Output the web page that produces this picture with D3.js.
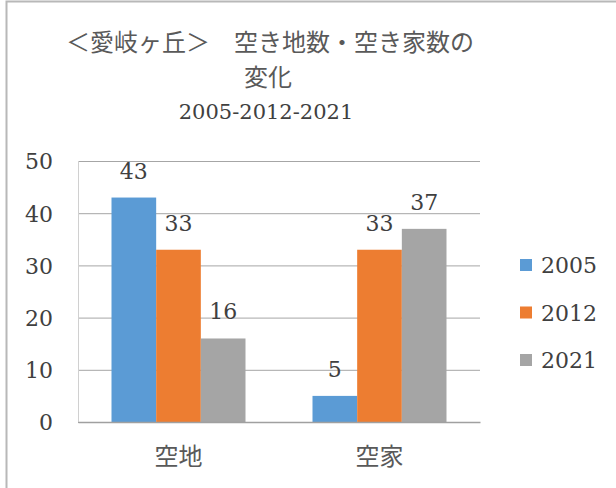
<!DOCTYPE html>
<html>
<head>
<meta charset="utf-8">
<script src="https://cdn.jsdelivr.net/npm/d3@7"></script>
<style>
  html, body { margin: 0; padding: 0; background: #fff; }
  svg { display: block; }
</style>
</head>
<body>
<svg id="chart" width="616" height="488"></svg>
<script>
// Chart data
const categories = ["空地", "空家"];
const seriesNames = ["2005", "2012", "2021"];
const values2005 = [43, 5];
const values2012 = [33, 33];
const values2021 = [16, 37];
const yTicks = [0, 10, 20, 30, 40, 50];
const titleLines = ["＜愛岐ヶ丘＞　空き地数・空き家数の", "変化", "2005-2012-2021"];

const seriesValues = [values2005, values2012, values2021];
const colors = ["#5B9BD5", "#ED7D31", "#A5A5A5"];

const svg = d3.select("#chart");
const W = 616, H = 488;
const plot = { left: 78, right: 480, top: 161, bottom: 422 };

const serif = "'DejaVu Serif', 'Liberation Serif', serif";
const cjk = "'Noto Sans CJK JP', 'Noto Sans CJK SC', sans-serif";

// outer frame (only left and top edges fall inside the view)
svg.append("rect")
  .attr("x", 6.5).attr("y", 1.5)
  .attr("width", W + 20).attr("height", H + 20)
  .attr("fill", "#fff")
  .attr("stroke", "#b8b8b8").attr("stroke-width", 2);

// scales
const y = d3.scaleLinear().domain([0, 50]).range([plot.bottom, plot.top]);
const x0 = d3.scaleBand().domain(categories)
  .range([plot.left, plot.right]).paddingInner(1 / 3).paddingOuter(1 / 6);
const x1 = d3.scaleBand().domain(seriesNames).range([0, x0.bandwidth()]).padding(0);

// gridlines + y tick labels
const yAxis = d3.axisLeft(y).tickValues(yTicks)
  .tickSize(-(plot.right - plot.left)).tickPadding(25).tickFormat(d3.format("d"));
const gy = svg.append("g").attr("transform", `translate(${plot.left},0)`).call(yAxis);
gy.select(".domain").remove();
gy.selectAll(".tick line").attr("stroke", "#a6a6a6").attr("stroke-width", 1);
gy.selectAll(".tick text")
  .attr("font-family", serif).attr("font-size", 22).attr("fill", "#404040")
  .attr("dy", "0.36em");

// faint left edge of the plot
svg.append("line")
  .attr("x1", plot.left + 0.5).attr("x2", plot.left + 0.5)
  .attr("y1", plot.top).attr("y2", plot.bottom)
  .attr("stroke", "#d0d0d0");

// bars
const groups = svg.append("g").selectAll("g")
  .data(categories).join("g")
  .attr("transform", c => `translate(${x0(c)},0)`);

groups.selectAll("rect")
  .data((c, ci) => seriesNames.map((s, si) => ({ s, si, v: seriesValues[si][ci] })))
  .join("rect")
  .attr("x", d => x1(d.s))
  .attr("y", d => y(d.v))
  .attr("width", x1.bandwidth())
  .attr("height", d => y(0) - y(d.v))
  .attr("fill", d => colors[d.si]);

// value labels
groups.selectAll("text")
  .data((c, ci) => seriesNames.map((s, si) => ({ s, si, v: seriesValues[si][ci] })))
  .join("text")
  .attr("x", d => x1(d.s) + x1.bandwidth() / 2)
  .attr("y", d => y(d.v) - 19)
  .attr("text-anchor", "middle")
  .attr("font-family", serif).attr("font-size", 22).attr("fill", "#404040")
  .text(d => d.v);

// category axis
const xAxis = d3.axisBottom(x0).tickSize(0).tickPadding(0);
const gx = svg.append("g").attr("transform", `translate(0,${plot.bottom})`).call(xAxis);
gx.select(".domain").attr("stroke", "#a0a0a0").attr("stroke-width", 1.5);
gx.selectAll(".tick text")
  .attr("font-family", cjk).attr("font-size", 24).attr("fill", "#595959")
  .attr("dy", 0).attr("y", 43);

// legend
const legend = svg.append("g").selectAll("g")
  .data(seriesNames).join("g")
  .attr("transform", (d, i) => `translate(520,${265 + i * 47.5})`);
legend.append("rect")
  .attr("x", 0).attr("y", -6).attr("width", 12).attr("height", 12)
  .attr("fill", (d, i) => colors[i]);
legend.append("text")
  .attr("x", 21).attr("y", 8)
  .attr("font-family", serif).attr("font-size", 22).attr("fill", "#404040")
  .text(d => d);

// title
const title = svg.append("g").attr("text-anchor", "middle").attr("fill", "#595959");
title.append("text").attr("x", 270).attr("y", 51)
  .attr("font-family", cjk).attr("font-size", 24).text(titleLines[0]);
title.append("text").attr("x", 268).attr("y", 86)
  .attr("font-family", cjk).attr("font-size", 24).text(titleLines[1]);
title.append("text").attr("x", 266).attr("y", 119)
  .attr("font-family", serif).attr("font-size", 21).attr("fill", "#404040").text(titleLines[2]);
</script>
</body>
</html>
